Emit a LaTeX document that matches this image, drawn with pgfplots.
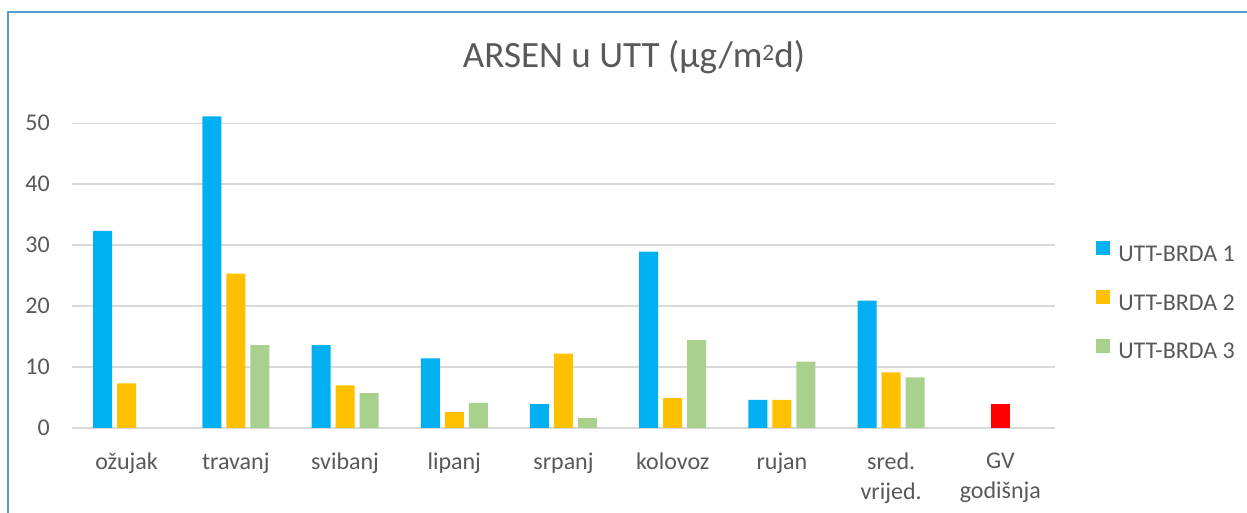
\documentclass[border=0pt]{standalone}
\usepackage{fontspec}
\setmainfont{Carlito}
\usepackage{pgfplots}
\pgfplotsset{compat=1.18}
\definecolor{cblue}{HTML}{00B0F0}
\definecolor{corange}{HTML}{FFC000}
\definecolor{cgreen}{HTML}{A9D18E}
\definecolor{cred}{HTML}{FF0000}
\definecolor{ctext}{HTML}{595959}
\definecolor{cgrid}{HTML}{D9D9D9}
\definecolor{cframe}{HTML}{5B9BD5}
\begin{document}
\begin{tikzpicture}
\useasboundingbox (0pt,0pt) rectangle (935.25pt,-384.75pt);
\fill[white] (0pt,0pt) rectangle (935.25pt,-384.75pt);
\draw[cframe, line width=1.5pt] (6pt,-384.75pt) -- (6pt,-9pt) -- (935.25pt,-9pt);
\node[text=ctext, font=\fontsize{27.8}{32}\selectfont] at (475.5pt,-42.75pt) {ARSEN u UTT (µg/m\raisebox{5.5pt}{\fontsize{17.5}{18}\selectfont 2}d)};
\begin{axis}[
  at={(54pt,-321pt)}, anchor=south west,
  scale only axis, width=737.25pt, height=251.6pt,
  xmin=-0.5, xmax=8.5, ymin=0, ymax=55,
  ybar, bar width=14.25pt,
  axis x line*=bottom, axis y line*=left,
  x axis line style={draw=cgrid, line width=1.2pt},
  y axis line style={draw=none},
  major tick length=0pt,
  ymajorgrids, grid style={draw=cgrid, line width=0.8pt},
  ytick={0,10,20,30,40,50},
  xtick={0,1,2,3,4,5,6,7,8},
  xticklabels={ožujak,travanj,svibanj,lipanj,srpanj,kolovoz,rujan,{sred.\\vrijed.},{GV\\godišnja}},
  /pgf/number format/assume math mode=true,
  tick label style={text=ctext, font=\fontsize{18}{22.5}\selectfont, inner sep=0pt},
  xticklabel style={anchor=north, align=center, yshift=-18.75pt},
  yticklabel style={anchor=east, xshift=-16.5pt},
  legend style={draw=none, fill=none, at={(axis description cs:1.0417,0.3756)}, anchor=west,
    inner sep=0pt, row sep=18.4pt, column sep=6pt,
    nodes={inner sep=0pt, text depth=3pt, text height=12pt, text=ctext, font=\fontsize{18}{22.5}\selectfont}},
  legend cell align=left,
  legend image code/.code={\fill[#1] (0pt,0pt) rectangle (10.5pt,10.5pt);},
]
\addplot[fill=cblue, draw=none, bar shift=-18pt] coordinates {(0,32.3) (1,51.1) (2,13.6) (3,11.4) (4,3.9) (5,28.9) (6,4.6) (7,20.9)};
\addplot[fill=corange, draw=none, bar shift=0pt] coordinates {(0,7.3) (1,25.3) (2,7.0) (3,2.6) (4,12.2) (5,4.9) (6,4.6) (7,9.1)};
\addplot[fill=cgreen, draw=none, bar shift=18pt] coordinates {(1,13.6) (2,5.7) (3,4.1) (4,1.6) (5,14.4) (6,10.9) (7,8.3)};
\addplot[fill=cred, draw=none, bar shift=0pt] coordinates {(8,4.0)};
\legend{UTT-BRDA 1,UTT-BRDA 2,UTT-BRDA 3}
\end{axis}
\end{tikzpicture}
\end{document}
